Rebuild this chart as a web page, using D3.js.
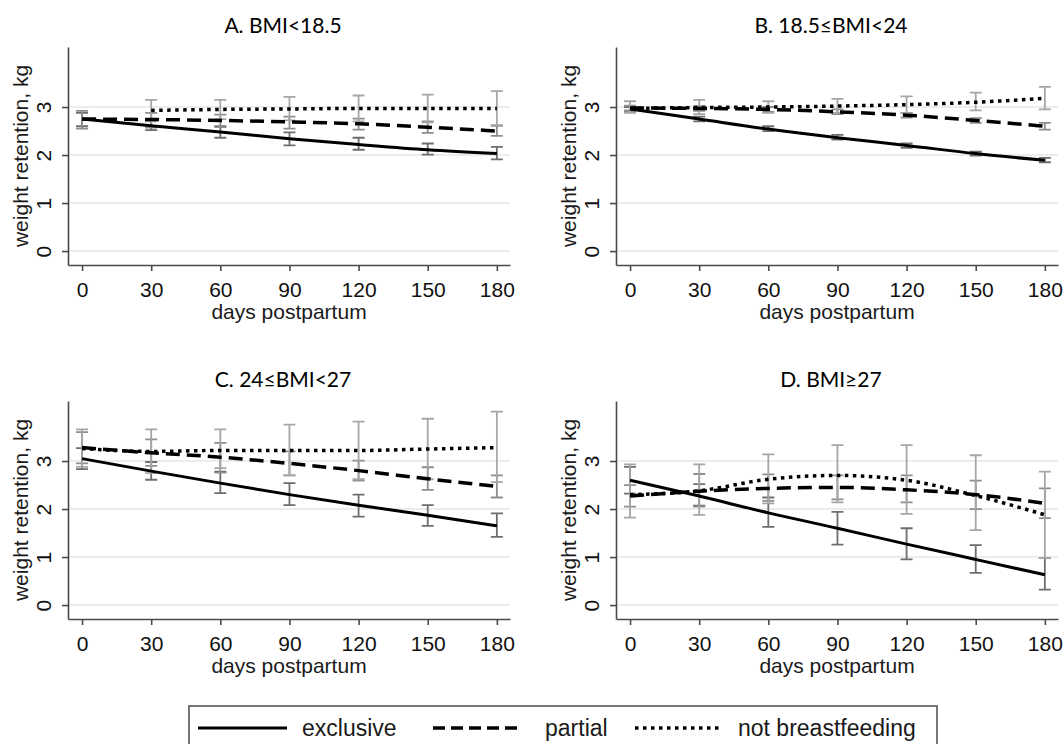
<!DOCTYPE html>
<html>
<head>
<meta charset="utf-8">
<script src="https://cdn.jsdelivr.net/npm/d3@7"></script>
<style>
  body { margin: 0; background: #fff; }
  svg { display: block; }
  .tick text { font-family: "Liberation Sans", Arial, sans-serif; fill: #111; }
</style>
</head>
<body>
<svg id="chart" width="1064" height="744"></svg>
<script>
var days = [0, 30, 60, 90, 120, 150, 180];
var yTicks = [0, 1, 2, 3];
var titles = ["A. BMI<18.5", "B. 18.5≤BMI<24", "C. 24≤BMI<27", "D. BMI≥27"];
var seriesNames = ["exclusive", "partial", "not breastfeeding"];

// one row per panel (A, B, C, D), one value per day
var exclusiveFit = [
  [2.75, 2.61, 2.48, 2.34, 2.22, 2.11, 2.03],
  [2.96, 2.75, 2.54, 2.36, 2.20, 2.03, 1.89],
  [3.05, 2.79, 2.54, 2.30, 2.08, 1.87, 1.65],
  [2.60, 2.27, 1.92, 1.60, 1.27, 0.95, 0.63]];
var exclusiveLo = [
  [2.60, 2.52, 2.36, 2.20, 2.11, 2.01, 1.91],
  [2.92, 2.70, 2.50, 2.32, 2.15, 1.99, 1.85],
  [2.83, 2.61, 2.33, 2.08, 1.84, 1.65, 1.42],
  [2.32, 2.07, 1.63, 1.26, 0.95, 0.67, 0.32]];
var exclusiveHi = [
  [2.88, 2.72, 2.60, 2.47, 2.36, 2.24, 2.17],
  [3.00, 2.80, 2.60, 2.42, 2.24, 2.07, 1.94],
  [3.27, 2.98, 2.78, 2.54, 2.30, 2.08, 1.91],
  [2.88, 2.52, 2.24, 1.94, 1.60, 1.25, 0.98]];

var partialFit = [
  [2.75, 2.74, 2.72, 2.69, 2.65, 2.58, 2.50],
  [2.98, 2.97, 2.95, 2.90, 2.83, 2.72, 2.60],
  [3.28, 3.17, 3.08, 2.95, 2.80, 2.63, 2.47],
  [2.27, 2.37, 2.43, 2.45, 2.40, 2.30, 2.12]];
var partialLo = [
  [2.55, 2.57, 2.58, 2.55, 2.53, 2.46, 2.40],
  [2.93, 2.92, 2.90, 2.85, 2.78, 2.67, 2.53],
  [2.95, 2.90, 2.76, 2.70, 2.59, 2.40, 2.24],
  [2.05, 2.05, 2.17, 2.20, 2.14, 2.00, 1.81]];
var partialHi = [
  [2.92, 2.88, 2.84, 2.80, 2.76, 2.70, 2.61],
  [3.03, 3.02, 3.00, 2.95, 2.88, 2.77, 2.67],
  [3.60, 3.45, 3.38, 3.20, 3.01, 2.87, 2.70],
  [2.50, 2.73, 2.72, 2.70, 2.70, 2.59, 2.43]];

var notbfFit = [
  [null, 2.93, 2.95, 2.96, 2.97, 2.97, 2.97],
  [2.97, 2.99, 3.00, 3.02, 3.05, 3.10, 3.18],
  [3.26, 3.20, 3.22, 3.22, 3.22, 3.25, 3.28],
  [2.30, 2.38, 2.62, 2.70, 2.60, 2.28, 1.88]];
var notbfLo = [
  [null, 2.70, 2.75, 2.72, 2.70, 2.68, 2.62],
  [2.88, 2.85, 2.88, 2.88, 2.87, 2.93, 2.95],
  [2.88, 2.75, 2.85, 2.70, 2.62, 2.62, 2.56],
  [1.82, 1.88, 2.12, 2.14, 1.90, 1.56, 0.98]];
var notbfHi = [
  [null, 3.15, 3.15, 3.21, 3.24, 3.26, 3.33],
  [3.12, 3.15, 3.12, 3.17, 3.22, 3.30, 3.42],
  [3.66, 3.66, 3.66, 3.76, 3.82, 3.88, 4.03],
  [2.93, 2.93, 3.14, 3.33, 3.33, 3.12, 2.78]];

var W = 442, H = 218;
var LEFTS = [68, 616], TOPS = [47, 401];
var FONT = '"Liberation Sans", Arial, sans-serif';

var styles = [
  { dash: null,  width: 3,   bar: "#6e6e6e" },
  { dash: "14,7", width: 3.5, bar: "#8e8e8e" },
  { dash: "3.5,4.5", width: 3.5, bar: "#a6a6a6" }
];

var series = [
  { fit: exclusiveFit, lo: exclusiveLo, hi: exclusiveHi },
  { fit: partialFit, lo: partialLo, hi: partialHi },
  { fit: notbfFit, lo: notbfLo, hi: notbfHi }
];

var svg = d3.select("#chart");
var x = d3.scaleLinear().domain([-6.1, 185.7]).range([0, W]);
var y = d3.scaleLinear().domain([-0.29, 4.25]).range([H, 0]);

var line = d3.line()
  .defined(d => d[1] != null)
  .x(d => x(d[0])).y(d => y(d[1]))
  .curve(d3.curveMonotoneX);

titles.forEach((title, p) => {
  var g = svg.append("g")
    .attr("transform", "translate(" + LEFTS[p % 2] + "," + TOPS[Math.floor(p / 2)] + ")");

  // grid
  g.selectAll("line.grid").data(yTicks).enter().append("line")
    .attr("class", "grid")
    .attr("x1", 0).attr("x2", W)
    .attr("y1", d => y(d)).attr("y2", d => y(d))
    .attr("stroke", "#e6e6e6").attr("stroke-width", 1.5);

  // error bars
  series.forEach((s, k) => {
    var bars = days.map((d, i) => ({ day: d, lo: s.lo[p][i], hi: s.hi[p][i] }))
      .filter(b => b.lo != null);
    var bg = g.append("g").attr("stroke", styles[k].bar).attr("stroke-width", 1.8).attr("fill", "none");
    bg.selectAll("path").data(bars).enter().append("path")
      .attr("d", b => {
        var cx = x(b.day), y1 = y(b.lo), y2 = y(b.hi);
        return "M" + (cx - 6) + "," + y1 + "H" + (cx + 6) +
               "M" + cx + "," + y1 + "V" + y2 +
               "M" + (cx - 6) + "," + y2 + "H" + (cx + 6);
      });
  });

  // fitted lines
  series.forEach((s, k) => {
    g.append("path")
      .datum(days.map((d, i) => [d, s.fit[p][i]]))
      .attr("d", line)
      .attr("fill", "none")
      .attr("stroke", "#000")
      .attr("stroke-width", styles[k].width)
      .attr("stroke-dasharray", styles[k].dash);
  });

  // axes
  var xa = g.append("g").attr("transform", "translate(0," + H + ")")
    .call(d3.axisBottom(x).tickValues(days).tickSize(6).tickSizeOuter(0).tickPadding(11));
  xa.selectAll("text").style("font-size", "21px");

  var ya = g.append("g")
    .call(d3.axisLeft(y).tickValues(yTicks).tickFormat(d3.format("d")).tickSize(6).tickSizeOuter(0));
  ya.selectAll("text")
    .attr("x", null).attr("dy", null)
    .attr("text-anchor", "middle")
    .attr("transform", "translate(-17,0) rotate(-90)")
    .style("font-size", "21px");

  g.selectAll(".domain, .tick line").attr("stroke", "#4a4a4a").attr("stroke-width", 1.6);

  g.append("text")
    .attr("transform", "translate(-40," + (H / 2) + ") rotate(-90)")
    .attr("text-anchor", "middle")
    .attr("font-family", FONT).attr("font-size", 21).attr("fill", "#1a1a1a")
    .text("weight retention, kg");

  g.append("text")
    .attr("x", W / 2).attr("y", H + 54)
    .attr("text-anchor", "middle")
    .attr("font-family", FONT).attr("font-size", 21).attr("fill", "#1a1a1a")
    .text("days postpartum");

  g.append("text")
    .attr("x", W / 2 - 6).attr("y", -14)
    .attr("text-anchor", "middle")
    .attr("font-family", "Lato, 'Open Sans', sans-serif").attr("font-size", 21).attr("fill", "#000")
    .text(title);
});

// legend
var legend = svg.append("g");
legend.append("rect")
  .attr("x", 189).attr("y", 706).attr("width", 748).attr("height", 60)
  .attr("fill", "#fff").attr("stroke", "#555").attr("stroke-width", 1.6);

var legendX = [[198, 287, 302], [433, 522, 545], [635, 722, 738]];
seriesNames.forEach((name, k) => {
  var pos = legendX[k];
  legend.append("line")
    .attr("x1", pos[0]).attr("x2", pos[1]).attr("y1", 728).attr("y2", 728)
    .attr("stroke", "#000").attr("stroke-width", styles[k].width)
    .attr("stroke-dasharray", k == 1 ? "12,6" : styles[k].dash);
  legend.append("text")
    .attr("x", pos[2]).attr("y", 736)
    .attr("font-family", FONT).attr("font-size", 23).attr("fill", "#1a1a1a")
    .text(name);
});
</script>
</body>
</html>
